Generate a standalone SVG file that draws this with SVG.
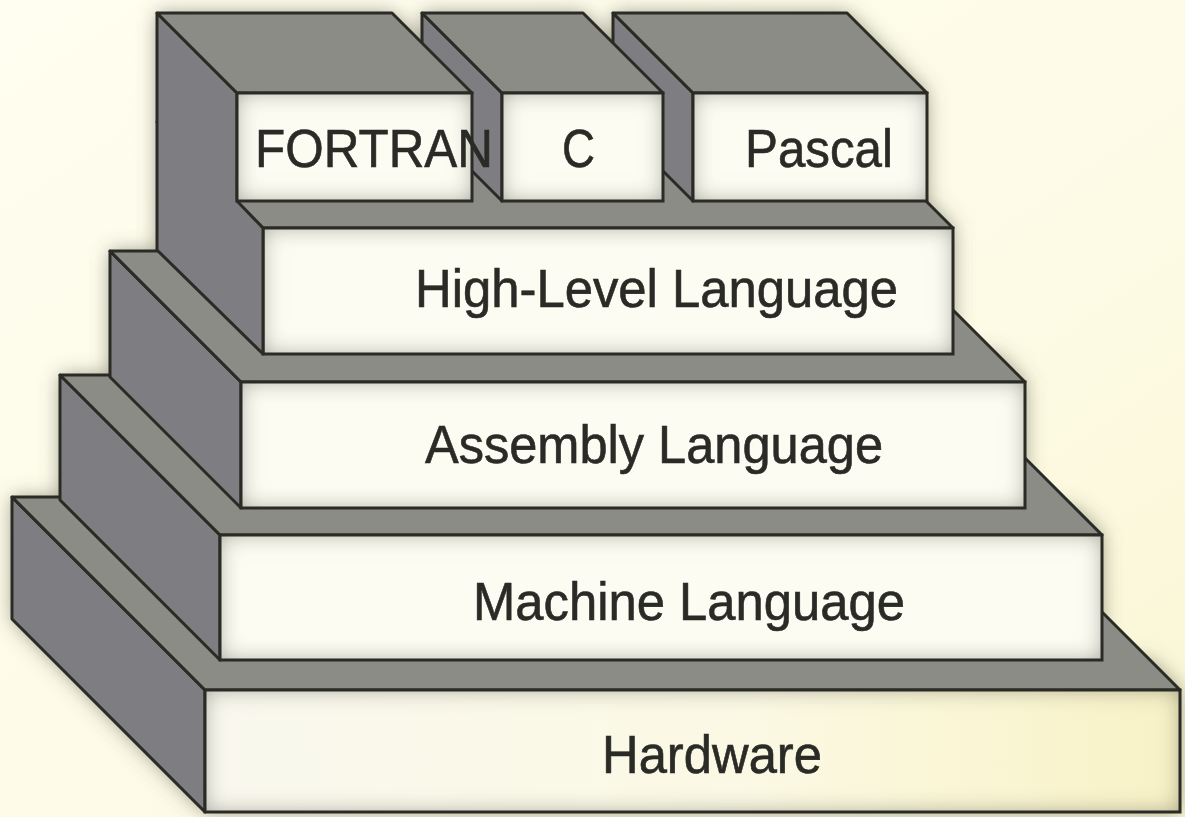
<svg xmlns="http://www.w3.org/2000/svg" width="1185" height="817" viewBox="0 0 1185 817">
  <defs>
    <linearGradient id="paper" x1="0" y1="0" x2="1" y2="1">
      <stop offset="0" stop-color="#FFFEF0"/>
      <stop offset="0.6" stop-color="#FDFBE6"/>
      <stop offset="1" stop-color="#FAF6D4"/>
    </linearGradient>
    <linearGradient id="baseFill" x1="0" y1="0" x2="1" y2="0">
      <stop offset="0" stop-color="#F9F8EE"/>
      <stop offset="0.55" stop-color="#FBF9E4"/>
      <stop offset="1" stop-color="#F8F2C6"/>
    </linearGradient>
    <!-- soft inner shading toward the edges of each front face -->
    <filter id="inset" x="0" y="0" width="1" height="1">
      <feGaussianBlur in="SourceAlpha" stdDeviation="11" result="blur"/>
      <feFlood flood-color="#6a6a5c" flood-opacity="0.75" result="tone"/>
      <feComposite in="tone" in2="blur" operator="out" result="rim"/>
      <feComposite in="rim" in2="SourceAlpha" operator="in" result="rimIn"/>
      <feMerge>
        <feMergeNode in="SourceGraphic"/>
        <feMergeNode in="rimIn"/>
      </feMerge>
    </filter>
    <filter id="halo" x="-10%" y="-10%" width="120%" height="120%">
      <feGaussianBlur stdDeviation="10"/>
    </filter>
  </defs>
  <style>
    .left { fill: #7E7E82; stroke: #2B2B25; stroke-width: 3; stroke-linejoin: round; }
    .top { fill: #8C8C87; stroke: #2B2B25; stroke-width: 3; stroke-linejoin: round; }
    .face { fill: #FDFCF3; filter: url(#inset); }
    .base { fill: url(#baseFill); filter: url(#inset); }
    .edge { fill: none; stroke: #2B2B25; stroke-width: 3; }
    .label { font-family: "Liberation Sans", Arial, sans-serif; font-size: 53px; fill: #2A2A26; stroke: #2A2A26; stroke-width: 0.6; }
  </style>

  <rect x="0" y="0" width="1185" height="817" fill="url(#paper)"/>

  <!-- soft shadow around the whole stack -->
  <path id="silhouette" filter="url(#halo)" fill="#5A5A48" fill-opacity="0.6"
        d="M157,13 H392 L422,43 V13 H583 L613,43 V13 H847 L927,93 V201 L953,228 V354 H997 L1025,382 V508 H1075 L1102,535 V660 H1150 L1180,690 V812 H205 L12,619 V497 H60 V375 H110 V251 H157 Z"/>

  <g id="hardware">
    <polygon class="left" points="12,497 205,690 205,812 12,619"/>
    <polygon class="top" points="12,497 987,497 1180,690 205,690"/>
    <rect class="base" x="205" y="690" width="975" height="122"/>
    <rect class="edge" x="205" y="690" width="975" height="122"/>
    <text class="label" x="602" y="773" textLength="220" lengthAdjust="spacingAndGlyphs">Hardware</text>
  </g>

  <g id="machine">
    <polygon class="left" points="60,375 220,535 220,660 60,500"/>
    <polygon class="top" points="60,375 942,375 1102,535 220,535"/>
    <rect class="face" x="220" y="535" width="882" height="125"/>
    <rect class="edge" x="220" y="535" width="882" height="125"/>
    <text class="label" x="473" y="620" textLength="432" lengthAdjust="spacingAndGlyphs">Machine Language</text>
  </g>

  <g id="assembly">
    <polygon class="left" points="110,251 241,382 241,508 110,377"/>
    <polygon class="top" points="110,251 894,251 1025,382 241,382"/>
    <rect class="face" x="241" y="382" width="784" height="126"/>
    <rect class="edge" x="241" y="382" width="784" height="126"/>
    <text class="label" x="425" y="463" textLength="458" lengthAdjust="spacingAndGlyphs">Assembly Language</text>
  </g>

  <g id="high-level">
    <polygon class="top" points="157,122 847,122 953,228 263,228"/>
    <rect class="face" x="263" y="228" width="690" height="126"/>
    <rect class="edge" x="263" y="228" width="690" height="126"/>
    <text class="label" x="415" y="307" textLength="483" lengthAdjust="spacingAndGlyphs">High-Level Language</text>
  </g>

  <g id="pascal">
    <polygon class="left" points="613,13 693,93 693,201 613,121"/>
    <polygon class="top" points="613,13 847,13 927,93 693,93"/>
    <rect class="face" x="693" y="93" width="234" height="108"/>
    <rect class="edge" x="693" y="93" width="234" height="108"/>
    <text class="label" x="745" y="167" textLength="148" lengthAdjust="spacingAndGlyphs">Pascal</text>
  </g>

  <g id="c">
    <polygon class="left" points="422,13 502,93 502,201 422,121"/>
    <polygon class="top" points="422,13 583,13 663,93 502,93"/>
    <rect class="face" x="502" y="93" width="161" height="108"/>
    <rect class="edge" x="502" y="93" width="161" height="108"/>
    <text class="label" x="562" y="167" textLength="33" lengthAdjust="spacingAndGlyphs">C</text>
  </g>

  <g id="fortran">
    <!-- shared left wall of the FORTRAN box and the High-Level slab below it -->
    <polygon class="left" points="157,13 237,93 237,201 263,228 263,354 157,250"/>
    <polygon class="top" points="157,13 392,13 472,93 237,93"/>
    <rect class="face" x="237" y="93" width="235" height="108"/>
    <rect class="edge" x="237" y="93" width="235" height="108"/>
    <text class="label" x="255" y="167" textLength="238" lengthAdjust="spacingAndGlyphs">FORTRAN</text>
  </g>
</svg>
